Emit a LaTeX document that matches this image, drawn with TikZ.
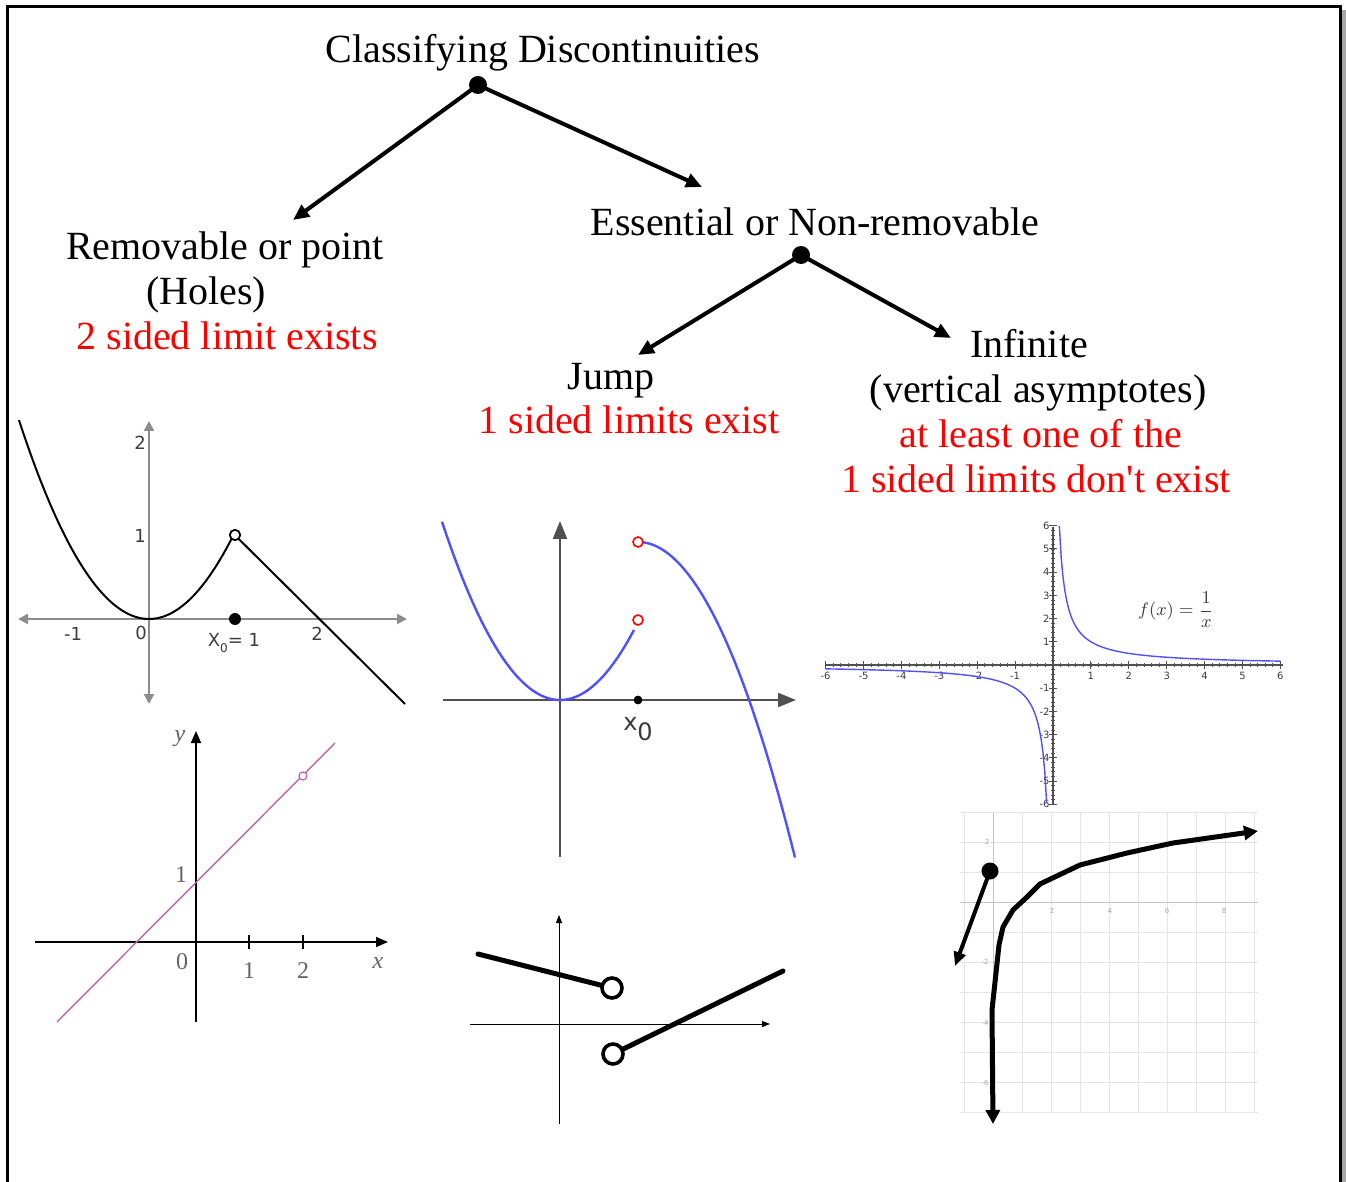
\documentclass[tikz,border=0pt]{standalone}
\usepackage{fontspec}
\usepackage{amsmath}
\setmainfont{Liberation Serif}[Ligatures=TeXOff]
\newfontfamily\dejavu{DejaVu Sans}
\usetikzlibrary{arrows.meta}
\definecolor{myred}{RGB}{255,0,0}
\definecolor{plotblue}{RGB}{80,80,255}
\definecolor{axgray}{RGB}{140,140,140}
\definecolor{lblgray}{RGB}{60,60,60}
\definecolor{pinkline}{RGB}{190,100,170}
\definecolor{gridgray}{RGB}{228,228,228}
\definecolor{darkax}{RGB}{80,80,80}
\tikzset{
  lbl/.style={anchor=base, font=\fontsize{20}{22.5}\selectfont, inner sep=0pt},
  redlbl/.style={lbl, text=myred},
  bigdot/.style={circle, fill=black, inner sep=0pt, minimum size=9pt},
  treearrow/.style={line width=2pt, -{Triangle[length=8pt,width=7pt]}},
  gonelbl/.style={font=\dejavu\fontsize{9}{9}\selectfont, text=lblgray, inner sep=0pt},
  gtwolbl/.style={font=\fontsize{12}{12}\selectfont, text=lblgray!80, inner sep=0pt},
  gfivelbl/.style={font=\dejavu\fontsize{5}{5}\selectfont, text=lblgray, inner sep=0pt},
  gsixlbl/.style={font=\dejavu\fontsize{3.5}{3.5}\selectfont, text=gray!70, inner sep=0pt},
}
\begin{document}
\begin{tikzpicture}[x=0.5pt, y=-0.5pt]
\useasboundingbox (0,0) rectangle (1346,1182);
% frame
\fill[gray!70] (1341,10) rectangle (1346,1182);
\draw[line width=1.5pt] (7,1182) -- (7,7) -- (1340,7) -- (1340,1182);

% ---------- tree ----------
\node[lbl] (title) at (543,63) {Classifying Discontinuities};
\node[bigdot] (d1) at (478,85) {};
\coordinate (t1) at (293,220);
\coordinate (t2) at (702,187);
\draw[treearrow] (d1.center) -- (t1);
\draw[treearrow] (d1.center) -- (t2);

\node[lbl] (remov) at (225,260) {Removable or point};
\node[lbl] (holes) at (206,305) {(Holes)};
\node[redlbl] (twosided) at (227,350) {2 sided limit exists};

\node[lbl] (essential) at (815,236) {Essential or Non-removable};
\node[bigdot] (d2) at (801,255) {};
\coordinate (t3) at (638,355);
\coordinate (t4) at (951,338);
\draw[treearrow] (d2.center) -- (t3);
\draw[treearrow] (d2.center) -- (t4);

\node[lbl] (jump) at (611,390) {Jump};
\node[redlbl] (onesided) at (629,434) {1 sided limits exist};

\node[lbl] (infinite) at (1029,358) {Infinite};
\node[lbl] (vert) at (1038,403) {(vertical asymptotes)};
\node[redlbl] (atleast) at (1041,448) {at least one of the};
\node[redlbl] (dontexist) at (1036,493) {1 sided limits don't exist};

% ---------- graph 1 (top left) ----------
\draw[axgray, line width=1pt, {Triangle[length=5pt,width=5pt]}-{Triangle[length=5pt,width=5pt]}] (18,619) -- (407,619);
\draw[axgray, line width=1pt, {Triangle[length=5pt,width=5pt]}-{Triangle[length=5pt,width=5pt]}] (149,704) -- (149,421);
\draw[line width=1pt] plot[domain=-1.53:1, samples=80] ({149+85*\x},{619-85*\x*\x}) -- (405,704);
\draw[line width=0.9pt, fill=white] (235,535) circle[radius=2.6pt];
\fill (235,619) circle[radius=3pt];
\node[gonelbl] (g1m1) at (73,634) {-1};
\node[gonelbl] (g1z) at (141,633) {0};
\node[gonelbl] (g1two) at (317,634) {2};
\node[gonelbl] (g1y1) at (140,536) {1};
\node[gonelbl] (g1y2) at (140,443) {2};
\node[gonelbl] (g1x0) at (234,643) {X\raisebox{-3pt}{\fontsize{6}{6}\selectfont 0}= 1};

% ---------- graph 2 (bottom left) ----------
\draw[line width=0.8pt, -{Triangle[length=6pt,width=5pt]}] (35,942) -- (388,942);
\draw[line width=0.8pt, -{Triangle[length=6pt,width=5pt]}] (196,1022) -- (196,731);
\draw[line width=0.8pt] (249,935) -- (249,949) (303,935) -- (303,949);
\draw[pinkline, line width=0.7pt] (57,1022) -- (335,743);
\draw[pinkline, line width=0.6pt, fill=white] (303,776) circle[radius=2pt];
\node[gtwolbl] (g2y) at (180,739) {\textit{y}};
\node[gtwolbl] (g2x) at (378,963) {\textit{x}};
\node[gtwolbl] (g2z) at (182,962) {0};
\node[gtwolbl] (g2o) at (249,971) {1};
\node[gtwolbl] (g2t) at (303,971) {2};
\node[gtwolbl] (g2yo) at (181,875) {1};

% ---------- graph 3 (jump, top middle) ----------
\draw[darkax, line width=1.2pt, -{Triangle[length=9pt,width=7pt]}] (443,700) -- (796,700);
\draw[darkax, line width=1.2pt, -{Triangle[length=9pt,width=7pt]}] (560,857) -- (560,521);
\draw[plotblue, line width=1.2pt] plot[domain=-118:74, samples=80] ({560+\x},{700-0.0128*\x*\x});
\draw[plotblue, line width=1.2pt] plot[domain=4:157, samples=80] ({638+\x},{542+0.0128*\x*\x});
\draw[myred, line width=0.8pt, fill=white] (638,620) circle[radius=2.5pt];
\draw[myred, line width=0.8pt, fill=white] (638,542) circle[radius=2.5pt];
\fill (638,700) circle[radius=2.2pt];
\node[font=\dejavu\fontsize{12}{12}\selectfont, text=lblgray, inner sep=0pt] (g3x0) at (638,729) {x\raisebox{-5pt}{0}};

% ---------- graph 4 (jump, bottom middle) ----------
\draw[line width=0.5pt, -{Triangle[length=4pt,width=3pt]}] (470,1024) -- (770,1024);
\draw[line width=0.5pt, -{Triangle[length=4pt,width=3pt]}] (559,1124) -- (559,915);
\draw[line width=2.5pt, line cap=round] (478,954) -- (612,988);
\draw[line width=2.5pt, line cap=round] (613,1054) -- (783,971);
\draw[line width=1.8pt, fill=white] (612,988) circle[radius=5pt];
\draw[line width=1.8pt, fill=white] (613,1054) circle[radius=5pt];

% ---------- graph 5 (1/x) ----------
\draw[darkax, line width=0.6pt] (825,665) -- (1283,665);
\draw[darkax, line width=0.6pt] (1053,527) -- (1053,805);
\foreach \i in {-30,...,30} {
  \draw[darkax, line width=0.4pt] ({1053+37.9*\i/5},663) -- ({1053+37.9*\i/5},667);
  \draw[darkax, line width=0.4pt] (1051,{665-23.2*\i/5}) -- (1055,{665-23.2*\i/5});
}
\foreach \i in {-6,...,-1,1,2,...,6} {
  \draw[darkax, line width=0.5pt] ({1053+37.9*\i},661) -- ({1053+37.9*\i},669);
  \draw[darkax, line width=0.5pt] (1049,{665-23.2*\i}) -- (1057,{665-23.2*\i});
  \node[gfivelbl] at ({1053+37.9*\i},676) {\i};
  \node[gfivelbl, anchor=east] at (1050,{665-23.2*\i}) {\i};
}
\draw[plotblue, line width=0.7pt] plot[domain=0.1667:6, samples=120] ({1053+37.9*\x},{665-23.2/\x});
\draw[plotblue, line width=0.7pt] plot[domain=-6:-0.1667, samples=120] ({1053+37.9*\x},{665-23.2/\x});
\node[font=\fontsize{9}{9}\selectfont, text=lblgray, inner sep=0pt] (g5f) at (1176,610) {$f(x)=\dfrac{1}{x}$};

% ---------- graph 6 (sketch) ----------
\foreach \k in {0,...,10} {
  \draw[gridgray, line width=0.5pt] ({964+29*\k},813) -- ({964+29*\k},1112);
  \draw[gridgray, line width=0.5pt] (960,{812+30*\k}) -- (1258,{812+30*\k});
}
\draw[gray!45, line width=0.5pt] (960,902) -- (1258,902);
\draw[gray!45, line width=0.5pt] (993,813) -- (993,1112);
\node[gsixlbl] at (1052,911) {2};
\node[gsixlbl] at (1110,911) {4};
\node[gsixlbl] at (1167,911) {6};
\node[gsixlbl] at (1224,911) {8};
\node[gsixlbl] at (987,842) {2};
\node[gsixlbl] at (985,962) {-2};
\node[gsixlbl] at (985,1023) {-4};
\node[gsixlbl] at (985,1083) {-6};
\draw[line width=2.5pt, line join=round, {Triangle[length=7pt,width=7pt]}-{Triangle[length=7pt,width=7pt]}]
  (993,1124) -- (992,1010) -- (999,945) -- (1003,927) -- (1013,910) -- (1027,897) -- (1040,884) -- (1080,865) -- (1127,853) -- (1173,843) -- (1258,831);
\node[circle, fill=black, inner sep=0pt, minimum size=8.5pt] (g6ball) at (990,871) {};
\coordinate (g6tip) at (955,966);
\draw[line width=2pt, -{Triangle[length=7pt,width=6pt]}] (g6ball.center) -- (g6tip);
\end{tikzpicture}
\end{document}
